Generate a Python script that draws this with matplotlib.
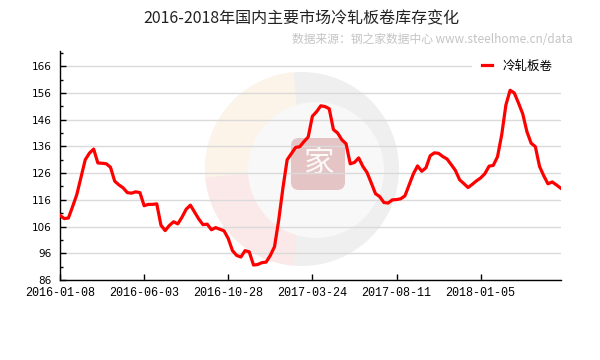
import matplotlib
matplotlib.use('Agg')
import matplotlib.pyplot as plt
from matplotlib.patches import Circle, Wedge, FancyBboxPatch
import numpy as np

plt.rcParams['font.family'] = ['Noto Sans CJK SC', 'DejaVu Sans']

# weekly stock of cold-rolled coil (10k t)
stock = [
    110.2, 109.0, 109.2, 113.5, 118.0, 124.5, 131.0, 133.5, 135.0, 129.8,
    129.7, 129.5, 128.2, 123.0, 121.6, 120.5, 118.7, 118.5, 119.0, 118.7,
    113.8, 114.3, 114.3, 114.5, 106.5, 104.5, 106.4, 107.8, 107.0, 109.5,
    112.5, 114.0, 111.4, 108.8, 106.7, 106.9, 104.8, 105.6, 105.0, 104.4,
    101.5, 97.0, 95.2, 94.6, 97.0, 96.5, 91.6, 91.8, 92.5, 92.7,
    95.2, 98.5, 108.5, 120.5, 131.0, 133.3, 135.6, 135.9, 137.8, 139.5,
    147.3, 149.0, 151.2, 150.9, 150.1, 142.3, 141.0, 138.5, 137.0, 129.5,
    130.0, 131.7, 128.5, 126.2, 122.3, 118.3, 117.2, 115.0, 114.8, 116.0,
    116.1, 116.4, 117.5, 121.6, 125.7, 128.7, 126.7, 128.0, 132.5, 133.6,
    133.4, 132.2, 131.3, 129.2, 127.0, 123.5, 122.1, 120.6, 121.8, 123.1,
    124.2, 125.8, 128.6, 128.9, 132.1, 140.3, 151.5, 157.0, 156.0, 152.2,
    148.2, 141.5, 137.2, 135.9, 128.5, 125.0, 122.0, 122.7, 121.6, 120.4,
]
tick_idx = [0, 20, 40, 60, 80, 100]
tick_labels = ['2016-01-08', '2016-06-03', '2016-10-28',
               '2017-03-24', '2017-08-11', '2018-01-05']
y_ticks = [86, 96, 106, 116, 126, 136, 146, 156, 166]

fig = plt.figure(figsize=(6, 3.6), dpi=100)

# faint watermark logo behind the plot (pixel coords, y down)
bg = fig.add_axes([0, 0, 1, 1], zorder=0)
bg.set_xlim(0, 600)
bg.set_ylim(360, 0)
bg.axis('off')
bg.add_patch(Circle((302, 169), 97, facecolor='#efefef', edgecolor='none'))
bg.add_patch(Wedge((302, 169), 97, 95, 265, facecolor='#fcf4e8', edgecolor='none'))
bg.add_patch(Wedge((302, 169), 97, 95, 175, facecolor='#fbe9e9', edgecolor='none'))
bg.add_patch(Circle((316, 170), 68, facecolor='#f8f8f8', edgecolor='none'))
bg.add_patch(FancyBboxPatch((293, 140), 50, 48, boxstyle='round,pad=2,rounding_size=8',
                            facecolor='#e4c4c4', edgecolor='none'))
bg.text(318, 164, '家', color='white', fontsize=22, ha='center', va='center', alpha=0.9)

ax = fig.add_axes([0.1, 0.2222, 0.835, 0.6361], zorder=1)
ax.set_facecolor('none')

ax.plot(range(len(stock)), stock, color='#ff0000', lw=2.3, label='冷轧板卷', zorder=3)

ax.set_xlim(0, 119.1)
ax.set_ylim(86, 171.7)
ax.set_yticks(y_ticks)
ax.set_yticks(np.arange(91, 172, 10), minor=True)
ax.set_xticks(tick_idx)
ax.set_xticklabels(tick_labels, fontfamily='Liberation Mono', fontsize=8.5)
ax.tick_params(axis='y', which='major', direction='in', length=4, width=1, pad=6, labelsize=7.5)
ax.tick_params(axis='y', which='minor', direction='in', length=2.5, width=1)
ax.tick_params(axis='x', direction='in', length=4.5, width=1, pad=5)
for lbl in ax.get_yticklabels():
    lbl.set_fontfamily('DejaVu Sans')

ax.grid(axis='y', color='#dadada', lw=1)
ax.set_axisbelow(True)
for s in ['top', 'right']:
    ax.spines[s].set_visible(False)
for s in ['left', 'bottom']:
    ax.spines[s].set_linewidth(1)
    ax.spines[s].set_color('black')

leg = ax.legend(loc='upper right', bbox_to_anchor=(1.0, 1.0), frameon=True, fontsize=9,
                handlelength=0.8, handletextpad=0.8, borderpad=0.5, borderaxespad=0.2)
leg.get_frame().set_facecolor('white')
leg.get_frame().set_edgecolor('none')
leg.get_frame().set_alpha(1)
leg.get_frame().set_boxstyle('square')

fig.text(0.502, 0.947, '2016-2018年国内主要市场冷轧板卷库存变化', ha='center', va='center',
         fontsize=11.5, color='#222222')
fig.text(0.955, 0.889, '数据来源：钢之家数据中心 www.steelhome.cn/data', ha='right', va='center',
         fontsize=8.5, color='#c4c4c4')

fig.savefig('out.png', dpi=100)
